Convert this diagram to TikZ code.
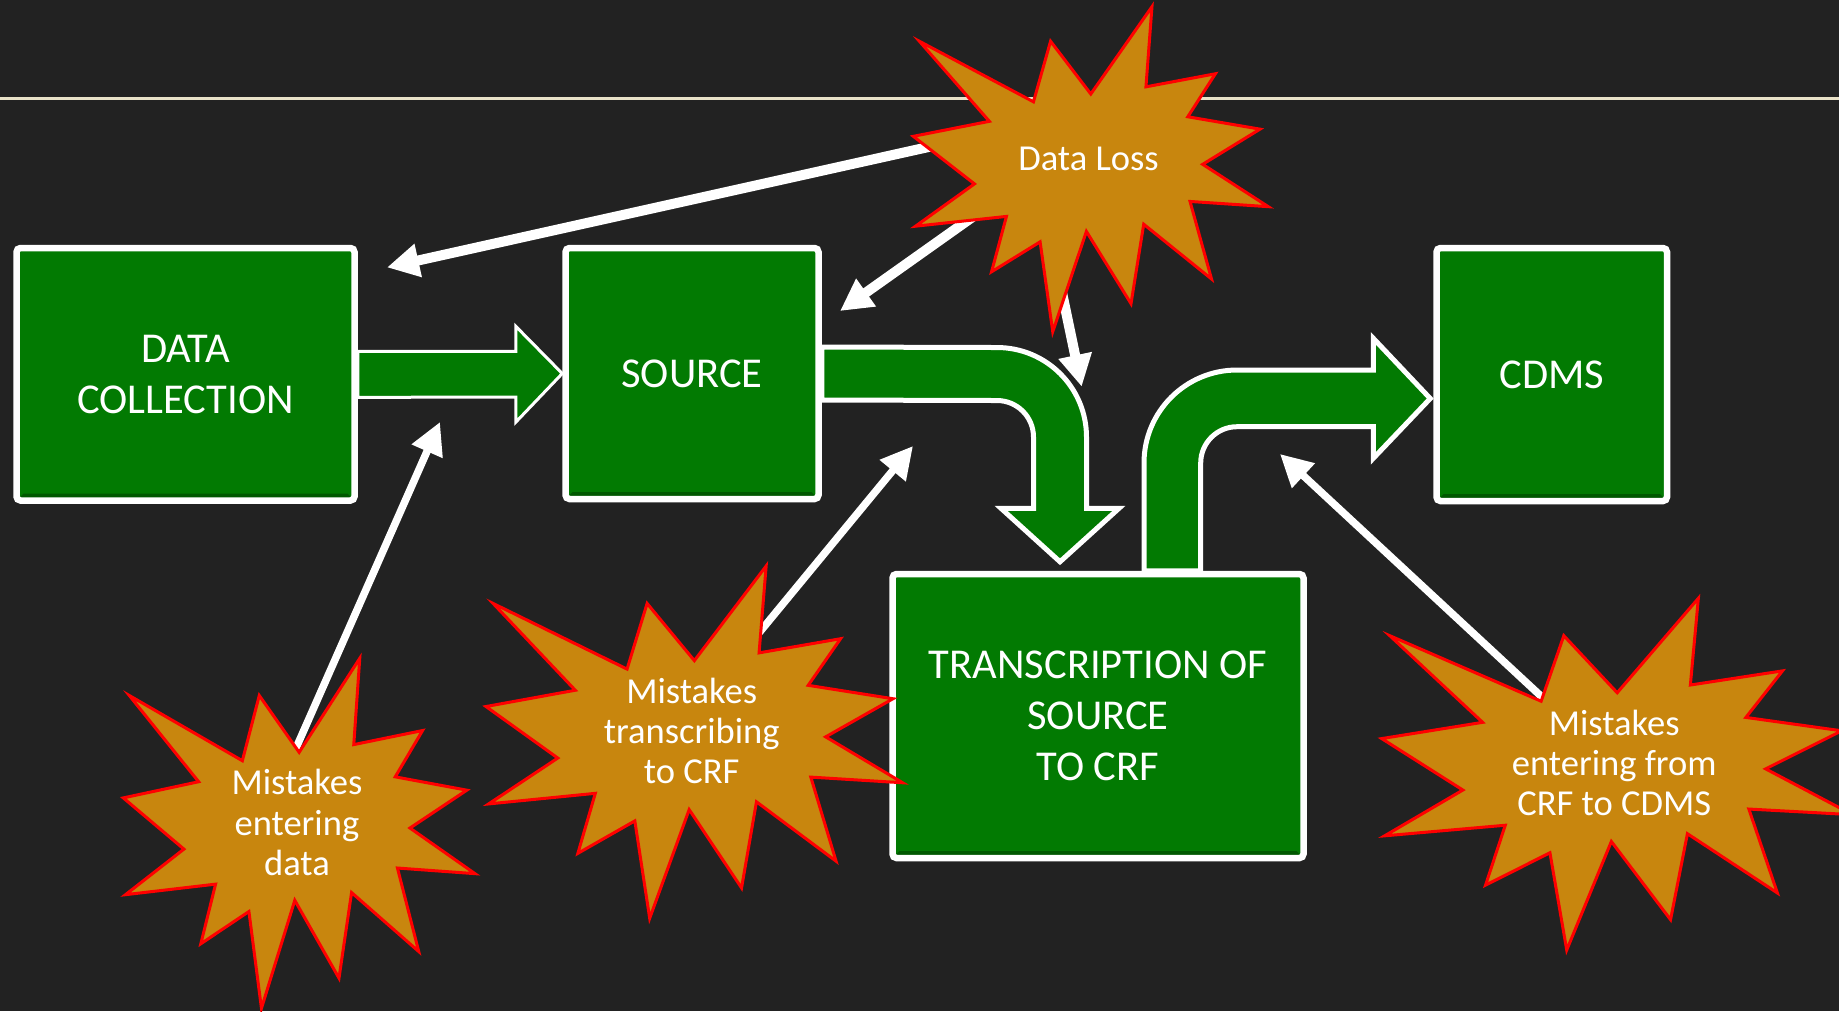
\documentclass[tikz,border=0pt]{standalone}
\usepackage{fontspec}
\setmainfont{Carlito}
\usetikzlibrary{arrows.meta,calc}

\definecolor{slide}{RGB}{34,34,34}
\definecolor{rulecream}{RGB}{233,226,200}
\definecolor{boxgreen}{RGB}{2,122,2}
\definecolor{boxdark}{RGB}{0,88,0}
\definecolor{burstfill}{RGB}{200,134,14}
\definecolor{burstline}{RGB}{255,0,0}

\pgfdeclarelayer{front}
\pgfsetlayers{main,front}

% explosion outline in a 216 x 216 box: name, top left corner, width, height, text
\newcommand\explosion[5]{%
  \begin{scope}[shift={(#2)},xscale=#3/216,yscale=#4/216]
    \filldraw[burst] (108.00,58.00) -- (145.22,0) -- (141.55,53.25) -- (183.80,44.57)
      -- (167.02,73.15) -- (210.97,81.37) -- (176.07,104.75) -- (216.00,132.90)
      -- (168.37,129.42) -- (181.45,180.95) -- (140.20,144.57) -- (132.47,197.37)
      -- (105.32,149.35) -- (84.85,216.00) -- (77.15,156.27) -- (47.62,176.17)
      -- (56.67,139.37) -- (1.35,145.87) -- (37.22,117.75) -- (0,86.15)
      -- (46.27,76.17) -- (3.70,22.95) -- (73.12,63.20) -- (83.52,22.95) -- cycle;
  \end{scope}
  \node[bursttext] (#1) at ($(#2)+(0.4937*#3,0.469*#4)$) {#5};
}

\begin{document}
\begin{tikzpicture}[
    x=0.1mm,y=-0.1mm,
    stage/.style={draw=white,line width=0.65mm,fill=boxgreen,rounded corners=0.4mm,
        inner sep=0pt,text=white,align=center,font=\fontsize{12.1}{14.6}\selectfont,
        path picture={\fill[boxdark,sharp corners] (path picture bounding box.south west)
            -- (path picture bounding box.south east)
            -- ([shift={(-7,-7)}]path picture bounding box.south east)
            -- ([shift={(7,-7)}]path picture bounding box.south west) -- cycle;}},
    flow/.style={draw=white,fill=boxgreen,line width=0.5mm},
    burst/.style={fill=burstfill,draw=burstline,line width=0.3mm},
    bursttext/.style={text=white,align=center,inner sep=0pt,font=\fontsize{10.4}{11.4}\selectfont},
    warn/.style={draw=white,line width=1mm,-{Triangle[length=3.2mm,width=3.2mm]}}
]

\useasboundingbox (0,0) rectangle (1839,1011);
\fill[slide] (0,0) rectangle (1839,1011);
\draw[rulecream,line width=0.27mm] (0,98.5) -- (1839,98.5);

\node[stage,minimum width=33.8mm,minimum height=25.25mm] (collect) at (185.5,374.25) {DATA\\COLLECTION};
\node[stage,minimum width=25.3mm,minimum height=25.1mm] (source) at (692,373.5) {SOURCE};
\node[stage,minimum width=41.1mm,minimum height=28.4mm] (trans) at (1098,716) {TRANSCRIPTION OF\\SOURCE\\TO CRF};
\node[stage,minimum width=23.05mm,minimum height=25.3mm] (cdms) at (1551.75,374.5) {CDMS};

% block arrows
\draw[flow,line width=0.3mm] ([shift={(0,-23)}]collect.east) -- ++(158,0) -- ++(0,-25) -- (source.west)
    -- ++(-46.5,48.7) -- ++(0,-25) -- ([shift={(0,23)}]collect.east) -- cycle;
\draw[flow] ([shift={(0,-26.5)}]source.east) -- (997,347.5) arc[start angle=-90,end angle=0,radius=89.5]
    -- (1086.5,508.3) -- (1119,508.3) -- ([shift={(-38,-9)}]trans.north) -- (1001,508.3) -- (1033.5,508.3)
    -- (1033.5,437) arc[start angle=0,end angle=-90,radius=36.5] -- ([shift={(0,26.5)}]source.east) -- cycle;
\draw[flow] ([shift={(46,0)}]trans.north) -- (1144,463) arc[start angle=180,end angle=270,radius=93]
    -- (1373.3,370) -- (1373.3,338.3) -- ([shift={(-3,24)}]cdms.west) -- (1373.3,458.3) -- (1373.3,426.7)
    -- (1237,426.7) arc[start angle=270,end angle=180,radius=36.3] -- ([shift={(102.7,0)}]trans.north) -- cycle;

\begin{pgfonlayer}{front}
\explosion{loss}{913.3,6.7}{355}{325}{Data Loss}
\explosion{entering}{123.3,658.3}{351.7}{350}{Mistakes\\entering\\data}
\explosion{transcribing}{486,566}{416.7}{352.3}{Mistakes\\transcribing\\to CRF}
\explosion{keying}{1381.7,598.3}{471}{351.7}{Mistakes\\entering from\\CRF to CDMS}
\end{pgfonlayer}

\coordinate (gapcollect) at (387,267.4);
\coordinate (gapsource) at (840,311);
\coordinate (gapbend) at (1081.7,386.7);
\coordinate (gapentry) at (440,422);
\coordinate (gaptranscribe) at (913,446);
\coordinate (gapcdms) at (1280,454);

\draw[warn] ([shift={(-128.6,-19.1)}]loss.center) -- (gapcollect);
\draw[warn] ([shift={(-88.6,38.4)}]loss.center) -- (gapsource);
\draw[warn] ([shift={(-38.6,75.9)}]loss.center) -- (gapbend);
\draw[warn,line width=0.75mm] ([shift={(-11.9,-49.5)}]entering.center) -- (gapentry);
\draw[warn,line width=0.75mm] ([shift={(38.3,-63.2)}]transcribing.center) -- (gaptranscribe);
\draw[warn,line width=0.75mm] ([shift={(-44.2,-40.2)}]keying.center) -- (gapcdms);

\end{tikzpicture}
\end{document}
